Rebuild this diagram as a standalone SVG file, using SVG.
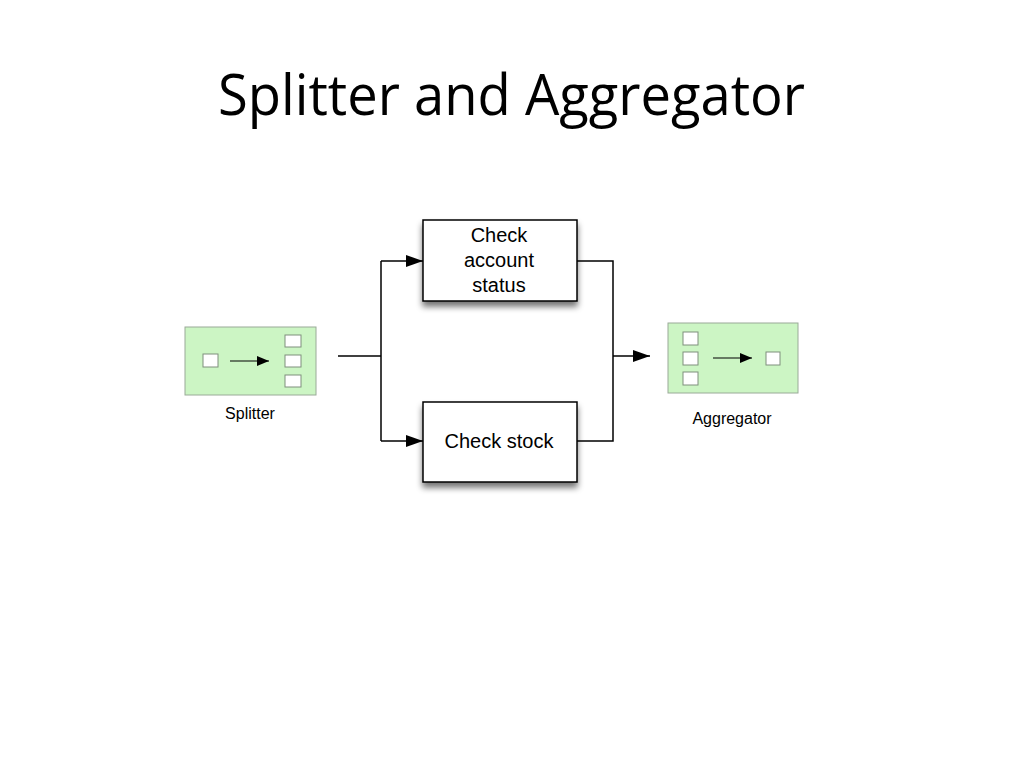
<svg xmlns="http://www.w3.org/2000/svg" width="1024" height="768" viewBox="0 0 1024 768">
<defs>
<style>
.title{font-family:"Open Sans","Liberation Sans",sans-serif;font-size:56px;fill:#000}
.lbl{font-family:"Liberation Sans",Arial,sans-serif;font-size:16px;fill:#000;text-anchor:middle}
.box{fill:#fff;stroke:#000;stroke-width:1.5}
.boxt{font-family:"Liberation Sans",Arial,sans-serif;font-size:20px;fill:#000;text-anchor:middle}
.green{fill:#ccf5c4;stroke:#9aaa98;stroke-width:1}
.sq{fill:#fff;stroke:#7f8f7c;stroke-width:1}
.conn{fill:none;stroke:#000;stroke-width:1.5}
.thin{fill:none;stroke:#000;stroke-width:1.2}
</style>
<marker id="ah" viewBox="0 0 17 12" refX="17" refY="6" markerWidth="17" markerHeight="12" markerUnits="userSpaceOnUse" orient="auto">
<path d="M0,0 L17,6 L0,12 Z" fill="#000"/>
</marker>
<marker id="ahs" viewBox="0 0 12 10" refX="12" refY="5" markerWidth="12" markerHeight="10" markerUnits="userSpaceOnUse" orient="auto">
<path d="M0,0 L12,5 L0,10 Z" fill="#000"/>
</marker>
<filter id="sh" x="-20%" y="-20%" width="140%" height="160%">
<feGaussianBlur in="SourceAlpha" stdDeviation="3"/>
<feOffset dx="0" dy="5" result="b"/>
<feComponentTransfer><feFuncA type="linear" slope="0.55"/></feComponentTransfer>
<feMerge><feMergeNode/><feMergeNode in="SourceGraphic"/></feMerge>
</filter>
</defs>
<rect width="1024" height="768" fill="#fff"/>
<text class="title" x="218" y="115" textLength="587" lengthAdjust="spacingAndGlyphs">Splitter and Aggregator</text>

<g id="splitter">
<rect class="green" x="185" y="327" width="131" height="68"/>
<rect class="sq" x="203" y="354" width="15" height="13"/>
<line class="thin" x1="230" y1="361" x2="269" y2="361" marker-end="url(#ahs)"/>
<rect class="sq" x="285" y="335" width="16" height="12"/>
<rect class="sq" x="285" y="355" width="16" height="12"/>
<rect class="sq" x="285" y="375" width="16" height="12"/>
<text class="lbl" x="250" y="419">Splitter</text>
</g>

<g id="check-account">
<rect class="box" x="423" y="220" width="154" height="81" filter="url(#sh)"/>
<text class="boxt" x="499" y="242">Check</text>
<text class="boxt" x="499" y="267">account</text>
<text class="boxt" x="499" y="292">status</text>
</g>

<g id="check-stock">
<rect class="box" x="423" y="402" width="154" height="80" filter="url(#sh)"/>
<text class="boxt" x="499" y="448">Check stock</text>
</g>

<g id="aggregator">
<rect class="green" x="668" y="323" width="130" height="70"/>
<rect class="sq" x="683" y="332" width="15" height="13"/>
<rect class="sq" x="683" y="352" width="15" height="13"/>
<rect class="sq" x="683" y="372" width="15" height="13"/>
<line class="thin" x1="713" y1="358" x2="752" y2="358" marker-end="url(#ahs)"/>
<rect class="sq" x="766" y="352" width="14" height="13"/>
<text class="lbl" x="732" y="424">Aggregator</text>
</g>

<g id="connectors">
<line class="conn" x1="338" y1="356" x2="381" y2="356"/>
<line class="conn" x1="381" y1="261" x2="381" y2="441"/>
<line class="conn" x1="381" y1="261" x2="423" y2="261" marker-end="url(#ah)"/>
<line class="conn" x1="381" y1="441" x2="423" y2="441" marker-end="url(#ah)"/>
<polyline class="conn" points="577,261 613,261 613,441 577,441"/>
<line class="conn" x1="613" y1="356" x2="650" y2="356" marker-end="url(#ah)"/>
</g>
</svg>
